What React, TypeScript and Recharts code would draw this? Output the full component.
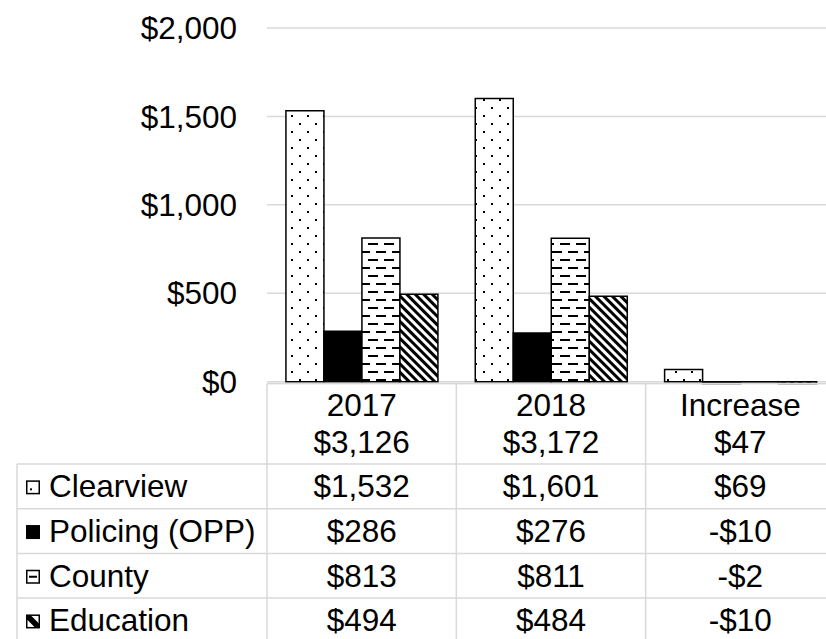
import React from 'react';
import { BarChart, Bar, XAxis, YAxis, CartesianGrid } from 'recharts';

const categories = ['2017', '2018', 'Increase'];
const totalLabels = ['$3,126', '$3,172', '$47'];
const clearview = [1532, 1601, 69];
const policing = [286, 276, -10];
const county = [813, 811, -2];
const education = [494, 484, -10];
const seriesNames = ['Clearview', 'Policing (OPP)', 'County', 'Education'];
const seriesKeys = ['clearview', 'policing', 'county', 'education'];
const seriesValues = [clearview, policing, county, education];
const yTicks = [0, 500, 1000, 1500, 2000];

const data = categories.map((c, i) => ({
  name: c,
  clearview: clearview[i],
  policing: policing[i],
  county: county[i],
  education: education[i],
}));

const CHART_W = 840;
const CHART_H = 639;
const MARGIN = { top: 28, right: 5, left: 0, bottom: 0 };
const Y_W = 267;
const X_H = 255.5;
const PLOT_W = CHART_W - MARGIN.left - MARGIN.right - Y_W;
const FONT = 'Liberation Sans, Arial, sans-serif';
const FS = 31.5;
const GRID = '#d9d9d9';
const LEG_X = 17;
const HEADER_H = 80.5;
const ROW_H = 44.7;

const fmt = (v: number) => (v < 0 ? '-' : '') + '$' + Math.abs(v).toLocaleString('en-US');

const Marker = ({ k, x, y }: { k: number; x: number; y: number }) => {
  const s = 14;
  if (k === 1) return <rect x={x} y={y} width={s} height={s} fill="#000" />;
  return (
    <g>
      <rect x={x + 0.75} y={y + 0.75} width={s - 1.5} height={s - 1.5} fill="#fff" stroke="#000" strokeWidth={1.5} />
      {k === 0 && <rect x={x + 4} y={y + 8} width={2} height={2} fill="#000" />}
      {k === 2 && <rect x={x + 3} y={y + 6} width={8} height={2} fill="#000" />}
      {k === 3 && (
        <polygon
          points={`${x + 1},${y + 1} ${x + 5},${y + 1} ${x + s - 1},${y + s - 5} ${x + s - 1},${y + s - 1} ${x + s - 5},${y + s - 1} ${x + 1},${y + 5}`}
          fill="#000"
        />
      )}
    </g>
  );
};

const TableTick = (props: any) => {
  const { x, y, index } = props;
  const i = index as number;
  const bw = PLOT_W / categories.length;
  const left = x - bw / 2;
  const right = x + bw / 2;
  const rowTops = seriesNames.map((_, r) => y + HEADER_H + r * ROW_H);
  const bottom = CHART_H + 10;
  const textProps = { fontFamily: FONT, fontSize: FS, fill: '#000' };
  return (
    <g>
      <line x1={left} y1={y} x2={left} y2={bottom} stroke={GRID} strokeWidth={1.5} />
      {i === categories.length - 1 && (
        <line x1={right} y1={y} x2={right} y2={bottom} stroke={GRID} strokeWidth={1.5} />
      )}
      <text x={x} y={y + 32} textAnchor="middle" {...textProps}>{categories[i]}</text>
      <text x={x} y={y + 69} textAnchor="middle" {...textProps}>{totalLabels[i]}</text>
      {rowTops.map((rt, r) => (
        <g key={r}>
          <line x1={left} y1={rt} x2={right} y2={rt} stroke={GRID} strokeWidth={1.5} />
          <text x={x} y={rt + ROW_H / 2 + 11} textAnchor="middle" {...textProps}>
            {fmt(seriesValues[r][i])}
          </text>
        </g>
      ))}
      {i === 0 && (
        <g>
          <line x1={LEG_X} y1={rowTops[0]} x2={LEG_X} y2={bottom} stroke={GRID} strokeWidth={1.5} />
          {rowTops.map((rt, r) => (
            <g key={r}>
              <line x1={LEG_X} y1={rt} x2={left} y2={rt} stroke={GRID} strokeWidth={1.5} />
              <Marker k={r} x={26} y={rt + ROW_H / 2 - 6} />
              <text x={49} y={rt + ROW_H / 2 + 11} textAnchor="start" {...textProps}>
                {seriesNames[r]}
              </text>
            </g>
          ))}
        </g>
      )}
    </g>
  );
};

const fills = ['url(#pDots)', '#000', 'url(#pDash)', 'url(#pDiag)'];

export default function App() {
  return (
    <div style={{ position: 'absolute', left: 0, top: 0, width: 826, height: 639, overflow: 'hidden', background: '#fff' }}>
      <BarChart
        width={CHART_W}
        height={CHART_H}
        data={data}
        margin={MARGIN}
        barCategoryGap="10%"
        barGap={0}
      >
        <defs>
          <pattern id="pDots" patternUnits="userSpaceOnUse" width={16} height={16}>
            <rect width={16} height={16} fill="#fff" />
            <rect x={3} y={3} width={2} height={2} fill="#000" />
            <rect x={11} y={11} width={2} height={2} fill="#000" />
          </pattern>
          <pattern id="pDash" patternUnits="userSpaceOnUse" width={16} height={16}>
            <rect width={16} height={16} fill="#fff" />
            <rect x={0} y={3} width={10} height={2} fill="#000" />
            <rect x={8} y={11} width={8} height={2} fill="#000" />
            <rect x={0} y={11} width={2} height={2} fill="#000" />
          </pattern>
          <pattern id="pDiag" patternUnits="userSpaceOnUse" width={6} height={6} patternTransform="rotate(-45)">
            <rect width={6} height={6} fill="#fff" />
            <rect x={0} y={0} width={3} height={6} fill="#000" />
          </pattern>
        </defs>
        <CartesianGrid vertical={false} stroke={GRID} strokeWidth={1.5} />
        <XAxis
          dataKey="name"
          height={X_H}
          interval={0}
          tickLine={false}
          tickSize={0}
          tickMargin={0}
          axisLine={{ stroke: GRID, strokeWidth: 1.5 }}
          tick={TableTick}
        />
        <YAxis
          width={Y_W}
          domain={[0, 2000]}
          ticks={yTicks}
          axisLine={false}
          tickLine={false}
          tickSize={6}
          tickMargin={24}
          tickFormatter={(v: number) => fmt(v)}
          tick={{ fontFamily: FONT, fontSize: FS, fill: '#000' }}
        />
        {seriesKeys.map((k, idx) => (
          <Bar
            key={k}
            dataKey={k}
            name={seriesNames[idx]}
            fill={fills[idx]}
            stroke="#000"
            strokeWidth={1.5}
            isAnimationActive={false}
          />
        ))}
      </BarChart>
    </div>
  );
}
